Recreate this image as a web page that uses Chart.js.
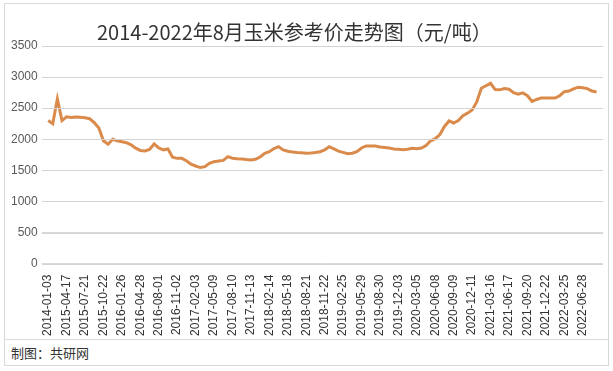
<!DOCTYPE html>
<html>
<head>
<meta charset="utf-8">
<script src="https://cdn.jsdelivr.net/npm/chart.js@4"></script>
<style>
  body { margin: 0; background: #fff; font-family: "Noto Sans CJK SC", sans-serif; }
  #box { position: absolute; left: 4px; top: 3px; width: 603px; height: 361px; border: 1px solid #d9d9d9; }
  #title { position: absolute; left: 92px; top: 13px; font-size: 20px; color: #333; white-space: nowrap; }
  #plot { position: absolute; left: 0; top: 0; width: 603px; height: 335px; }
  .gl { position: absolute; height: 0; border-top: 1px solid #d4d4d4; z-index: 2; }
  #foot { position: absolute; left: 0; top: 335px; width: 603px; height: 26px; border-top: 1px solid #d9d9d9;
          font-size: 13px; color: #333; line-height: 26px; padding-left: 6px; box-sizing: border-box; }
</style>
</head>
<body>
<div id="box">
  <div id="plot"><canvas id="myChart" width="603" height="335"></canvas></div>
  <div id="title">2014-2022年8月玉米参考价走势图（元/吨）</div>
  <div id="foot">制图：共研网</div>
</div>
<script>
// datas das marcas do eixo x (uma a cada 4 pontos)
var tickDates = ['2014-01-03', '2015-04-17', '2015-07-21', '2015-10-22', '2016-01-26', '2016-04-28',
  '2016-08-01', '2016-11-02', '2017-02-03', '2017-05-09', '2017-08-10', '2017-11-13',
  '2018-02-14', '2018-05-18', '2018-08-21', '2018-11-22', '2019-02-25', '2019-05-29',
  '2019-08-30', '2019-12-03', '2020-03-05', '2020-06-08', '2020-09-09', '2020-12-11',
  '2021-03-16', '2021-06-17', '2021-09-20', '2021-12-22', '2022-03-25', '2022-06-28'];

// preço de referência do milho (元/吨)
var prices = [
  2300, 2250, 2650, 2300, 2360, 2352, 2357, 2355, 2345, 2330,
  2270, 2180, 1975, 1920, 2000, 1975, 1960, 1945, 1910, 1857,
  1820, 1812, 1835, 1925, 1860, 1830, 1844, 1712, 1693, 1693,
  1655, 1600, 1570, 1545, 1560, 1612, 1640, 1650, 1660, 1720,
  1695, 1687, 1682, 1673, 1666, 1677, 1715, 1775, 1800, 1850,
  1880, 1828, 1808, 1796, 1788, 1782, 1776, 1780, 1788, 1800,
  1830, 1880, 1845, 1810, 1790, 1768, 1775, 1800, 1860, 1893,
  1893, 1890, 1875, 1866, 1858, 1845, 1838, 1830, 1840, 1855,
  1846, 1860, 1900, 1975, 2010, 2075, 2206, 2295, 2262, 2300,
  2380, 2420, 2470, 2600, 2820, 2860, 2900, 2800, 2795, 2815,
  2805, 2750, 2725, 2746, 2700, 2610, 2640, 2665, 2665, 2665,
  2663, 2700, 2765, 2775, 2810, 2838, 2830, 2815, 2775, 2760
];

var data = [];
for (var i = 0; i < prices.length; i++) {
  data.push({ x: i, y: prices[i] });
}

var ctx = document.getElementById('myChart').getContext('2d');
var chart = new Chart(ctx, {
  type: 'line',
  data: {
    datasets: [{
      label: '玉米参考价',
      data: data,
      borderColor: '#da8b4b',
      borderWidth: 3,
      pointRadius: 0,
      tension: 0,
      fill: false
    }]
  },
  options: {
    responsive: false,
    animation: false,
    layout: { padding: { left: 2, right: 5, top: 42, bottom: 0 } },
    plugins: {
      legend: { display: false },
      tooltip: { enabled: false }
    },
    scales: {
      x: {
        type: 'linear',
        min: -1.4,
        max: 120.4,
        afterBuildTicks: function(axis) {
          axis.ticks = tickDates.map(function(d, i) { return { value: i * 4 }; });
        },
        ticks: {
          autoSkip: false,
          maxRotation: 90,
          minRotation: 90,
          padding: 3,
          color: '#333',
          font: { family: 'Liberation Sans, Arial', size: 12 },
          callback: function(v) { return tickDates[v / 4]; }
        },
        grid: { display: false },
        border: { display: false }
      },
      y: {
        min: 0,
        max: 3500,
        ticks: {
          stepSize: 500,
          padding: 4,
          color: '#595959',
          font: { family: 'Liberation Sans, Arial', size: 12 },
          callback: function(v) { return String(v); }
        },
        grid: { color: '#d9d9d9', drawTicks: false },
        border: { display: false }
      }
    }
  }
});

// grade repetida com divs por cima do canvas, nas posições da escala y
var plot = document.getElementById('plot');
var area = chart.chartArea;
chart.scales.y.ticks.forEach(function(t) {
  var d = document.createElement('div');
  d.className = 'gl';
  d.style.left = Math.round(area.left) + 'px';
  d.style.width = Math.round(area.right - area.left) + 'px';
  d.style.top = Math.round(chart.scales.y.getPixelForValue(t.value)) + 'px';
  plot.appendChild(d);
});
</script>
</body>
</html>
